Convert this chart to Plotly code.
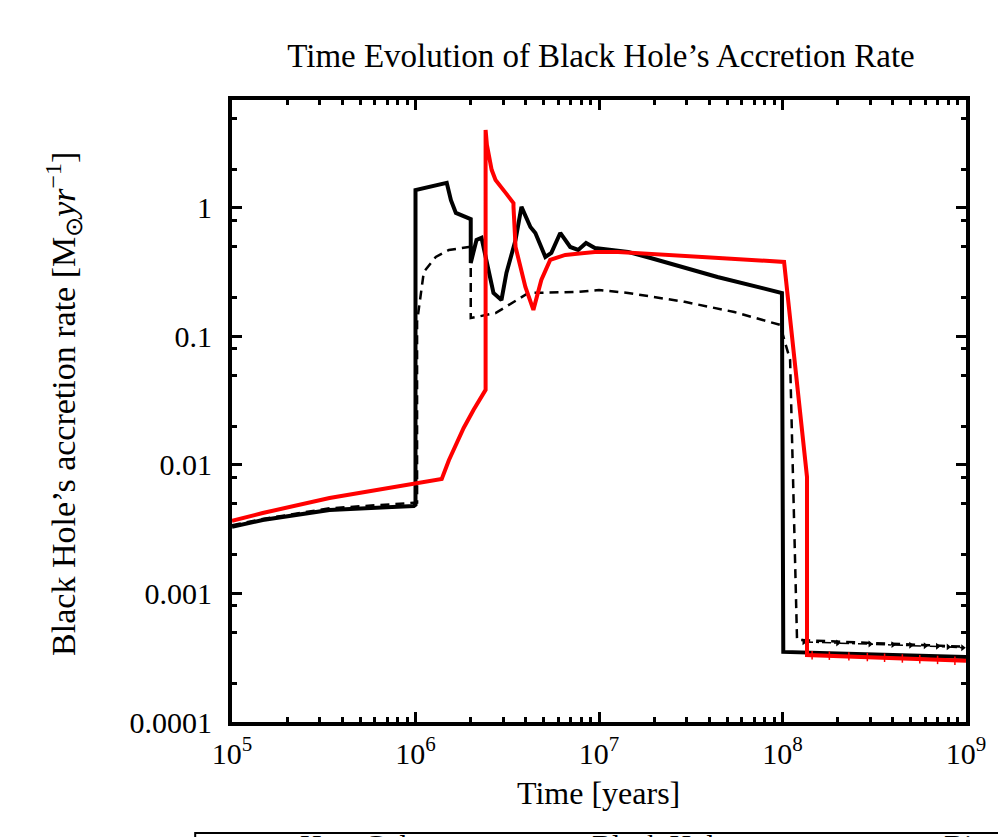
import plotly.graph_objects as go

# ---- data ----
bh_solid_t = [1e5, 1.47e5, 3.4e5, 9.8e5, 1.0e6, 1.0e6, 1.48e6, 1.56e6, 1.66e6, 1.95e6, 2.0e6, 2.0e6,
              2.15e6, 2.29e6, 2.66e6, 2.94e6, 3.13e6, 3.51e6, 3.78e6, 4.23e6, 4.5e6, 5.1e6, 5.5e6,
              6.15e6, 6.97e6, 7.7e6, 8.5e6, 9.5e6, 1.16e7, 1.44e7, 1.91e7, 4.42e7, 9.93e7, 1.01e8, 1e9]
bh_solid_r = [0.0033, 0.00373, 0.00447, 0.0048, 0.0049, 1.38, 1.57, 1.15, 0.914, 0.836, 0.82, 0.373,
              0.564, 0.585, 0.218, 0.192, 0.312, 0.564, 1.02, 0.711, 0.639, 0.416, 0.447,
              0.639, 0.497, 0.471, 0.534, 0.488, 0.471, 0.455, 0.408, 0.290, 0.218, 0.000351, 0.00032]

bh_dash_t = [1e5, 1.47e5, 3.4e5, 9.8e5, 1.02e6, 1.02e6, 1.11e6, 1.29e6, 1.52e6, 1.95e6, 2.0e6, 2.0e6,
             2.73e6, 4.12e6, 7.7e6, 1e7, 1.44e7, 2.93e7, 5.46e7, 9.7e7, 1.10e8, 1.20e8, 1e9]
bh_dash_r = [0.0034, 0.0038, 0.0046, 0.00506, 0.0051, 0.13, 0.318, 0.416, 0.471, 0.497, 0.497, 0.139,
             0.152, 0.218, 0.222, 0.23, 0.218, 0.186, 0.155, 0.123, 0.0656, 0.000435, 0.000385]

red_t = [1e5, 1.47e5, 3.4e5, 1.39e6, 1.52e6, 1.66e6, 1.83e6, 2.07e6, 2.41e6, 2.41e6, 2.45e6, 2.6e6,
         2.73e6, 3.1e6, 3.42e6, 3.42e6, 3.51e6, 3.97e6, 4.39e6, 4.85e6, 5.42e6, 6.55e6, 9.5e6, 1.27e7,
         1.02e8, 1.36e8, 1.36e8, 1e9]
red_r = [0.00367, 0.00423, 0.00553, 0.00778, 0.0109, 0.0143, 0.0194, 0.0268, 0.0384, 4.05, 3.09, 1.98,
         1.65, 1.31, 1.09, 1.02, 0.497, 0.243, 0.161, 0.275, 0.394, 0.431, 0.455, 0.455,
         0.38, 0.00807, 0.000332, 0.0003]

dd_t = [1.31e8, 2e8, 3e8, 4e8, 5e8, 6e8, 7e8, 8e8, 9.6e8]
dd_r = [0.00042, 0.000412, 0.000405, 0.0004, 0.000396, 0.000392, 0.000388, 0.000384, 0.000378]

mk_t = [1.45e8, 1.8e8, 2.3e8, 2.9e8, 3.6e8, 4.5e8, 5.6e8, 7e8, 8.7e8]
mk_r = [0.000331, 0.000328, 0.000324, 0.00032, 0.000316, 0.000312, 0.000308, 0.000304, 0.0003]

x_ticks = [1e5, 1e6, 1e7, 1e8, 1e9]
x_ticktext = ["10<sup>5</sup>", "10<sup>6</sup>", "10<sup>7</sup>", "10<sup>8</sup>", "10<sup>9</sup>"]
y_ticks = [1e-4, 1e-3, 1e-2, 1e-1, 1]
y_ticktext = ["0.0001", "0.001", "0.01", "0.1", "1"]
x_minor = [m * 10 ** k for k in range(5, 9) for m in range(2, 10)]
y_minor = [m * 10.0 ** k for k in range(-4, 1) for m in (2, 5, 8)]

legend_labels = ["Host Galaxy", "Black Hole", "Binary"]

FONT = "Liberation Serif"

fig = go.Figure()
fig.add_trace(go.Scatter(x=bh_dash_t, y=bh_dash_r, mode="lines",
                         line=dict(color="black", width=2.5, dash="9px,6px")))
fig.add_trace(go.Scatter(x=dd_t, y=dd_r, mode="lines+markers",
                         line=dict(color="black", width=1.5, dash="dashdot"),
                         marker=dict(symbol="triangle-right", size=6, color="black")))
fig.add_trace(go.Scatter(x=bh_solid_t, y=bh_solid_r, mode="lines",
                         line=dict(color="black", width=4, shape="linear")))
fig.add_trace(go.Scatter(x=red_t, y=red_r, mode="lines",
                         line=dict(color="#ff0000", width=4)))
fig.add_trace(go.Scatter(x=mk_t, y=mk_r, mode="markers",
                         marker=dict(symbol="line-ns", size=6, color="#ff0000",
                                     line=dict(color="#ff0000", width=1.5))))

axis_common = dict(
    showline=True, linecolor="black", linewidth=4, mirror="allticks",
    ticks="inside", ticklen=10, tickwidth=3, tickcolor="black",
    showgrid=False, zeroline=False,
    tickfont=dict(family=FONT, size=30, color="black"),
)

fig.update_xaxes(type="log", range=[5, 9], tickmode="array", tickvals=x_ticks, ticktext=x_ticktext,
                 minor=dict(tickmode="array", tickvals=x_minor, ticks="inside", ticklen=5,
                            tickwidth=3, tickcolor="black", showgrid=False),
                 ticklabelstandoff=2, **axis_common)
fig.update_yaxes(type="log", range=[-4, 0.84], tickmode="array", tickvals=y_ticks, ticktext=y_ticktext,
                 minor=dict(tickmode="array", tickvals=y_minor, ticks="inside", ticklen=5,
                            tickwidth=3, tickcolor="black", showgrid=False),
                 ticklabelstandoff=10, **axis_common)

PW, PH = 738, 622


def px_x(p):
    return (p - 232) / PW


def px_y(p):
    return (722 - p) / PH


annotations = [
    dict(text="Time [years]", x=px_x(600), y=px_y(793), xref="paper", yref="paper",
         showarrow=False, font=dict(family=FONT, size=32, color="black"), xanchor="center", yanchor="middle"),
    dict(text="Black Hole’s accretion rate [M<sub>⊙</sub><i>yr</i><sup>−1</sup>]", x=px_x(62), y=px_y(404),
         xref="paper", yref="paper", textangle=-90, showarrow=False,
         font=dict(family=FONT, size=34, color="black"), xanchor="center", yanchor="middle"),
]
for lbl, px in zip(legend_labels, [298, 592, 946]):
    annotations.append(dict(text=lbl, x=px_x(px), y=px_y(826), xref="paper", yref="paper",
                            showarrow=False, xanchor="left", yanchor="top",
                            font=dict(family=FONT, size=30, color="black")))

fig.update_layout(
    width=998, height=837,
    margin=dict(l=232, r=28, t=100, b=115),
    paper_bgcolor="white", plot_bgcolor="white",
    showlegend=False,
    title=dict(text="Time Evolution of Black Hole’s Accretion Rate", x=601 / 998, xanchor="center",
               y=1 - 55 / 837, yanchor="middle", font=dict(family=FONT, size=33, color="black")),
    annotations=annotations,
    shapes=[dict(type="rect", xref="paper", yref="paper", x0=px_x(195), x1=1.2, y0=px_y(833), y1=-0.4,
                 line=dict(color="black", width=2), fillcolor="rgba(0,0,0,0)")],
)

fig.write_html("out.html")
